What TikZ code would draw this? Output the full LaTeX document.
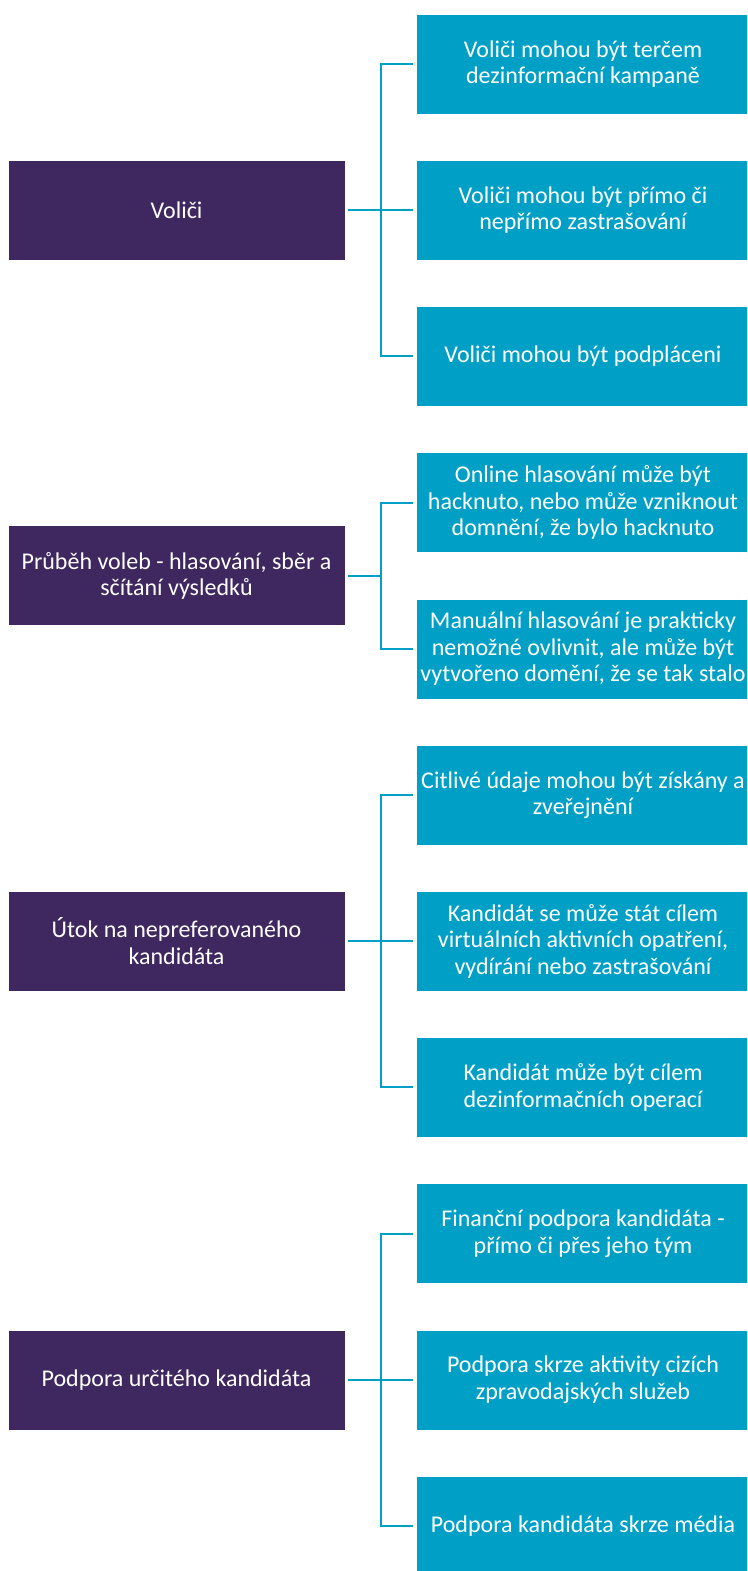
\documentclass[tikz,border=0pt]{standalone}
\usepackage{fontspec}
\setmainfont{Carlito}
\definecolor{purp}{HTML}{3F275F}
\definecolor{teal}{HTML}{00A0C6}
\begin{document}
\begin{tikzpicture}[x=1pt,y=-1pt,
  base/.style={rectangle,inner sep=0pt,align=center,text=white,draw=white,line width=0.6pt,
    font=\fontsize{24}{26.5}\selectfont},
  parentbox/.style={base,fill=purp,minimum width=337pt,minimum height=100pt},
  childbox/.style={base,fill=teal,minimum width=334pt,minimum height=100pt},
  conn/.style={draw=teal,line width=2pt}]
\useasboundingbox (0,0) rectangle (747,1571);
\clip (0,0) rectangle (747,1571);
% children
\node[childbox] (r1) at (583,64) {Voliči mohou být terčem\\dezinformační kampaně};
\node[childbox] (r2) at (583,210.2) {Voliči mohou být přímo či\\nepřímo zastrašování};
\node[childbox] (r3) at (583,356.4) {Voliči mohou být podpláceni};
\node[childbox] (r4) at (583,502.6) {Online hlasování může být\\hacknuto, nebo může vzniknout\\domnění, že bylo hacknuto};
\node[childbox] (r5) at (583,648.8) {Manuální hlasování je prakticky\\nemožné ovlivnit, ale může být\\vytvořeno domění, že se tak stalo};
\node[childbox] (r6) at (583,795) {Citlivé údaje mohou být získány a\\zveřejnění};
\node[childbox] (r7) at (583,941.2) {Kandidát se může stát cílem\\virtuálních aktivních opatření,\\vydírání nebo zastrašování};
\node[childbox] (r8) at (583,1087.4) {Kandidát může být cílem\\dezinformačních operací};
\node[childbox] (r9) at (583,1233.6) {Finanční podpora kandidáta -\\přímo či přes jeho tým};
\node[childbox] (r10) at (583,1379.8) {Podpora skrze aktivity cizích\\zpravodajských služeb};
\node[childbox] (r11) at (583,1526) {Podpora kandidáta skrze média};
% parents
\node[parentbox] (p1) at (176.5,210.2) {Voliči};
\node[parentbox] (p2) at (176.5,575.7) {Průběh voleb - hlasování, sběr a\\sčítání výsledků};
\node[parentbox] (p3) at (176.5,941.2) {Útok na nepreferovaného\\kandidáta};
\node[parentbox] (p4) at (176.5,1379.8) {Podpora určitého kandidáta};
% connectors
\foreach \p/\c in {p1/r1,p1/r2,p1/r3,p2/r4,p2/r5,p3/r6,p3/r7,p3/r8,p4/r9,p4/r10,p4/r11}{
  \draw[conn] ([xshift=3pt]\p.east) -- ([xshift=36pt]\p.east) |- ([xshift=-3pt]\c.west);
}
\end{tikzpicture}
\end{document}
